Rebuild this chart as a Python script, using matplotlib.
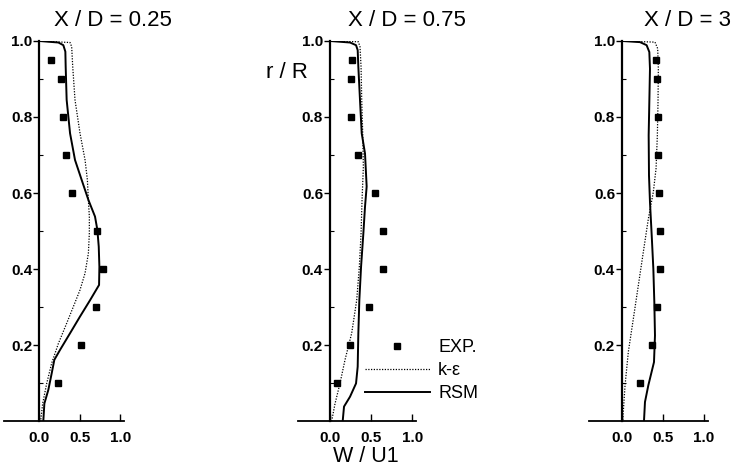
import numpy as np
import matplotlib
matplotlib.use("Agg")
import matplotlib.pyplot as plt
from matplotlib.lines import Line2D

plt.rcParams['font.family'] = ['Liberation Sans', 'DejaVu Sans']

# Datos experimentales (mismos radios en los tres perfiles)
r_exp = [0.95, 0.90, 0.80, 0.70, 0.60, 0.50, 0.40, 0.30, 0.20, 0.10]
w_exp_025 = [0.15, 0.27, 0.29, 0.33, 0.40, 0.71, 0.79, 0.70, 0.51, 0.23]
w_exp_075 = [0.27, 0.25, 0.25, 0.34, 0.55, 0.64, 0.64, 0.47, 0.24, 0.09]
w_exp_3 = [0.42, 0.43, 0.44, 0.44, 0.45, 0.46, 0.46, 0.43, 0.37, 0.22]

# RSM, X/D = 0.25
r_rsm_025 = [1.0, 0.996, 0.989, 0.972, 0.932, 0.845, 0.757, 0.687, 0.634, 0.582, 0.538, 0.503,
             0.459, 0.406, 0.358, 0.318, 0.275, 0.231, 0.187, 0.161, 0.125, 0.082, 0.046, 0.0]
w_rsm_025 = [0.0, 0.235, 0.296, 0.321, 0.325, 0.337, 0.379, 0.44, 0.523, 0.605, 0.687, 0.716,
             0.733, 0.741, 0.737, 0.626, 0.502, 0.379, 0.255, 0.185, 0.152, 0.111, 0.062, 0.049]
# k-eps, X/D = 0.25
r_ke_025 = [1.0, 0.996, 0.985, 0.932, 0.845, 0.757, 0.687, 0.634, 0.582, 0.538, 0.494,
            0.441, 0.389, 0.345, 0.301, 0.257, 0.204, 0.152, 0.099, 0.046, 0.0]
w_ke_025 = [0.0, 0.379, 0.399, 0.412, 0.440, 0.502, 0.564, 0.593, 0.605, 0.617, 0.617,
            0.605, 0.564, 0.502, 0.420, 0.337, 0.235, 0.152, 0.091, 0.041, 0.016]

# RSM, X/D = 0.75
r_rsm_075 = [1.0, 0.996, 0.989, 0.976, 0.932, 0.845, 0.757, 0.704, 0.617, 0.564, 0.494,
             0.406, 0.318, 0.231, 0.143, 0.099, 0.064, 0.038, 0.0]
w_rsm_075 = [0.0, 0.243, 0.316, 0.336, 0.344, 0.364, 0.385, 0.425, 0.445, 0.425, 0.405,
             0.377, 0.356, 0.344, 0.336, 0.316, 0.243, 0.170, 0.154]
# k-eps, X/D = 0.75
r_ke_075 = [1.0, 0.998, 0.985, 0.932, 0.845, 0.757, 0.669, 0.582, 0.494, 0.406, 0.318,
            0.231, 0.161, 0.099, 0.046, 0.0]
w_ke_075 = [0.0, 0.344, 0.364, 0.377, 0.385, 0.397, 0.405, 0.389, 0.377, 0.356, 0.324,
            0.263, 0.182, 0.121, 0.061, 0.020]

# RSM, X/D = 3
r_rsm_3 = [1.0, 0.997, 0.989, 0.971, 0.927, 0.839, 0.752, 0.646, 0.576, 0.489, 0.401,
           0.313, 0.225, 0.155, 0.094, 0.050, 0.0]
w_rsm_3 = [0.0, 0.22, 0.30, 0.333, 0.341, 0.333, 0.325, 0.329, 0.341, 0.362, 0.382,
           0.394, 0.402, 0.390, 0.321, 0.280, 0.268]
# k-eps, X/D = 3
r_ke_3 = [1.0, 0.997, 0.980, 0.927, 0.839, 0.752, 0.664, 0.603, 0.532, 0.445, 0.357,
          0.269, 0.182, 0.094, 0.0]
w_ke_3 = [0.0, 0.402, 0.435, 0.443, 0.439, 0.431, 0.415, 0.382, 0.321, 0.260, 0.199,
          0.138, 0.077, 0.037, 0.008]

titulos = ["X / D = 0.25", "X / D = 0.75", "X / D = 3"]
x_ticks = [0.0, 0.5, 1.0]
y_ticks = [0.2, 0.4, 0.6, 0.8, 1.0]
y_minor = [0.1, 0.3, 0.5, 0.7, 0.9]

paneles = [
    (w_exp_025, r_rsm_025, w_rsm_025, r_ke_025, w_ke_025),
    (w_exp_075, r_rsm_075, w_rsm_075, r_ke_075, w_ke_075),
    (w_exp_3, r_rsm_3, w_rsm_3, r_ke_3, w_ke_3),
]

# posiciones de los ejes (fracciones de la figura) y límites en x
pos = [[0.005, 0.1004, 0.1636, 0.812],
       [0.4037, 0.1004, 0.1606, 0.812],
       [0.7984, 0.1004, 0.1611, 0.812]]
xlims = [(-0.44, 1.05), (-0.39, 1.05), (-0.40, 1.05)]
titulo_x = [113 / 738, 407 / 738, 688 / 738]

fig = plt.figure(figsize=(7.38, 4.68), dpi=100)

for i, (w_exp, r_rsm, w_rsm, r_ke, w_ke) in enumerate(paneles):
    ax = fig.add_axes(pos[i])
    ax.plot(w_ke, r_ke, color='black', lw=0.9, linestyle=(0, (1, 1.2)))
    ax.plot(w_rsm, r_rsm, color='black', lw=1.4)
    ax.plot(w_exp, r_exp, 's', color='black', markersize=3.8, linestyle='none')

    ax.set_xlim(*xlims[i])
    ax.set_ylim(0, 1.0)
    for s in ['top', 'right']:
        ax.spines[s].set_visible(False)
    ax.spines['left'].set_linewidth(1.6)
    ax.spines['bottom'].set_linewidth(1.3)
    ax.spines['left'].set_position(('data', 0.0))

    ax.set_xticks(x_ticks)
    ax.set_xticklabels(['0.0', '0.5', '1.0'])
    ax.set_yticks(y_ticks)
    ax.set_yticklabels(['%.1f' % v for v in y_ticks])
    ax.set_yticks(y_minor, minor=True)
    ax.tick_params(axis='x', direction='in', length=5, width=1, labelsize=11, pad=7)
    ax.tick_params(axis='y', which='major', direction='out', length=4, width=1, labelsize=11, pad=1)
    ax.tick_params(axis='y', which='minor', direction='in', length=3, width=0.8)
    for lab in ax.get_xticklabels() + ax.get_yticklabels():
        lab.set_fontweight('bold')
    ax.patch.set_visible(False)

    fig.text(titulo_x[i], 1 - 20 / 468, titulos[i], fontsize=16, ha='center', va='center')

    if i == 1:
        handles = [
            Line2D([], [], marker='s', color='black', markersize=3.8, linestyle='none'),
            Line2D([], [], color='black', lw=0.9, linestyle=(0, (1, 1.2))),
            Line2D([], [], color='black', lw=1.4),
        ]
        ax.legend(handles, ['EXP.', 'k-ε', 'RSM'], loc='upper left',
                  bbox_to_anchor=(0.565, 0.215), frameon=False, fontsize=13,
                  handlelength=3.6, handletextpad=0.45, labelspacing=0.33,
                  borderpad=0, borderaxespad=0)

fig.text(287 / 738, 1 - 72.5 / 468, 'r / R', fontsize=16, ha='center', va='center')
fig.text(366 / 738, 1 - 456 / 468, 'W / U1', fontsize=15.5, ha='center', va='center')

fig.savefig('out.png', dpi=100)
